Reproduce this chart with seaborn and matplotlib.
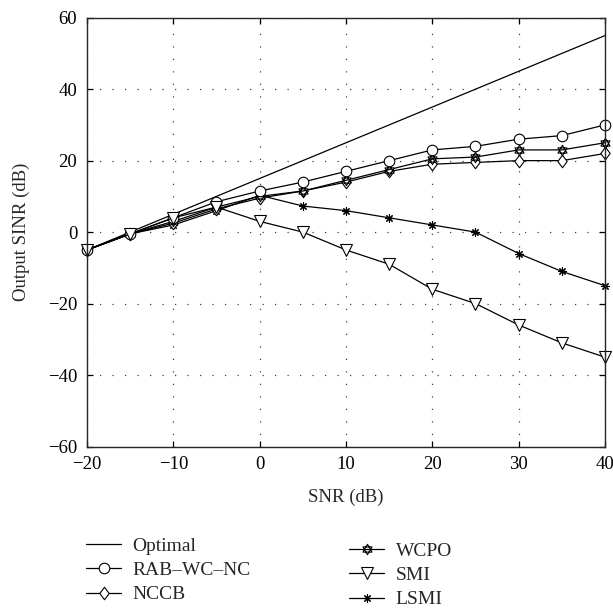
import matplotlib
matplotlib.use("Agg")
import matplotlib.pyplot as plt
from matplotlib.path import Path
import seaborn as sns

# SNR grid (dB) and output SINR (dB) per beamformer
snr = [-20, -15, -10, -5, 0, 5, 10, 15, 20, 25, 30, 35, 40]
optimal = [-5, 0, 5, 10, 15, 20, 25, 30, 35, 40, 45, 50, 55]
rab_wc_nc = [-5, -0.5, 4, 8.5, 11.5, 14, 17, 20, 23, 24, 26, 27, 30]
nccb = [-5, -0.5, 2.5, 6.5, 9.5, 11.5, 14, 17, 19, 19.5, 20, 20, 22]
wcpo = [-5, -0.5, 3, 7, 10, 11.5, 14.5, 17.5, 20.5, 21, 23, 23, 25]
smi = [-5, -0.5, 4, 7, 3, 0, -5, -9, -16, -20, -26, -31, -35]
lsmi = [-5, -0.5, 2, 6, 10.3, 7.3, 6, 4, 2, 0, -6, -11, -15]

series_names = ["Optimal", "RAB\u2013WC\u2013NC", "NCCB", "WCPO", "SMI", "LSMI"]
x_ticks = [-20, -10, 0, 10, 20, 30, 40]
y_ticks = [-60, -40, -20, 0, 20, 40, 60]

sns.set_style("ticks")
plt.rcParams["font.family"] = ["Liberation Serif", "DejaVu Serif"]
plt.rcParams["axes.unicode_minus"] = True

# custom marker shapes: six-pointed star and a tall diamond
hexagram = Path(
    [(0, 1), (0.866, -0.5), (-0.866, -0.5), (0, 1),
     (0, -1), (0.866, 0.5), (-0.866, 0.5), (0, -1)],
    [Path.MOVETO, Path.LINETO, Path.LINETO, Path.CLOSEPOLY] * 2,
)
tall_diamond = Path(
    [(0, 1), (0.75, 0), (0, -1), (-0.75, 0), (0, 1)],
    [Path.MOVETO, Path.LINETO, Path.LINETO, Path.LINETO, Path.CLOSEPOLY],
)

fig = plt.figure(figsize=(6.13, 6.08), dpi=100)
ax = fig.add_axes([87 / 613, 1 - 446.5 / 608, (605 - 87) / 613, (446.5 - 17.7) / 608])

styles = {
    "Optimal": (optimal, None, 0),
    "RAB\u2013WC\u2013NC": (rab_wc_nc, "o", 7.6),
    "NCCB": (nccb, tall_diamond, 9.0),
    "WCPO": (wcpo, hexagram, 7.5),
    "SMI": (smi, "v", 8.5),
    "LSMI": (lsmi, (8, 2, 0), 6.0),
}
draw_order = ["Optimal", "LSMI", "NCCB", "WCPO", "RAB\u2013WC\u2013NC", "SMI"]

handles = {}
for name in draw_order:
    vals, mk, ms = styles[name]
    sns.lineplot(
        x=snr, y=vals, ax=ax, color="black", linewidth=0.9,
        marker=mk, markersize=ms, markerfacecolor="white",
        markeredgecolor="black", markeredgewidth=0.8,
        clip_on=False, label=name, estimator=None, sort=False,
    )
    handles[name] = ax.lines[-1]

if ax.get_legend() is not None:
    ax.get_legend().remove()

ax.set_xlim(-20, 40)
ax.set_ylim(-60, 60)
ax.set_xticks(x_ticks)
ax.set_yticks(y_ticks)
ax.grid(True, linestyle=(0, (1, 9)), color="0.25", linewidth=0.9)
for s in ax.spines.values():
    s.set_visible(True)
    s.set_linewidth(1.0)
ax.tick_params(direction="in", top=True, right=True, length=4, width=0.9,
               labelsize=13.5, pad=7, colors="black")
ax.set_xlabel("SNR (dB)", fontsize=13.5, labelpad=11)
ax.set_ylabel("Output SINR (dB)", fontsize=13.5, labelpad=13)

leg_kw = dict(frameon=False, fontsize=14, loc="upper left", borderpad=0,
              borderaxespad=0, handlelength=1.8, handletextpad=0.6,
              labelspacing=0.35)
left_names, right_names = series_names[:3], series_names[3:]
fig.legend([handles[n] for n in left_names], left_names,
           bbox_to_anchor=(86 / 613, 1 - 537 / 608), **leg_kw)
fig.legend([handles[n] for n in right_names], right_names,
           bbox_to_anchor=(349 / 613, 1 - 542 / 608), **leg_kw)

fig.savefig("out.png", dpi=100)
